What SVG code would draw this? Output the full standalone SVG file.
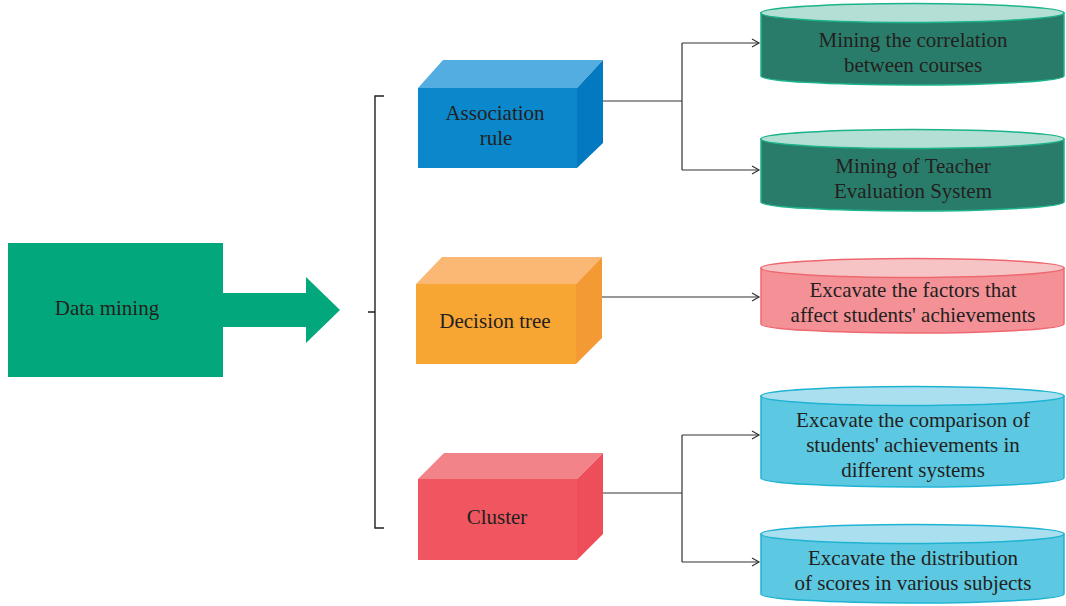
<svg xmlns="http://www.w3.org/2000/svg" width="1066" height="606" viewBox="0 0 1066 606">
<defs>
<style>
.t{font-family:"Liberation Serif","Times New Roman",serif;font-size:21px;fill:#231F20;text-anchor:middle}
.ln{fill:none;stroke:#333;stroke-width:1.2}
.br{fill:none;stroke:#231F20;stroke-width:1.4}
.cg{fill:#2A7C6A;stroke:#1CB38A;stroke-width:1.5}
.cgt{fill:#B3DFD4;stroke:#1CB38A;stroke-width:1.5}
.cp{fill:#F39196;stroke:#EE6870;stroke-width:1.5}
.cpt{fill:#F7C4C6;stroke:#EE6870;stroke-width:1.5}
.cc{fill:#5CC8E1;stroke:#1FB3D3;stroke-width:1.5}
.cct{fill:#A9DFEE;stroke:#1FB3D3;stroke-width:1.5}
</style>
<marker id="ah" markerWidth="10" markerHeight="10" refX="8" refY="5" orient="auto" markerUnits="userSpaceOnUse">
<path d="M1,1 L8,5 L1,9" fill="none" stroke="#333" stroke-width="1.2"/>
</marker>
</defs>
<rect width="1066" height="606" fill="#fff"/>

<g id="data-mining">
<rect x="8" y="243" width="215" height="134" fill="#02A87B"/>
<polygon points="222,293 306,293 306,277 340,310 306,343 306,327 222,327" fill="#02A87B"/>
<text class="t" x="107" y="315">Data mining</text>
</g>

<g id="bracket">
<path class="br" d="M384,96 L375,96 L375,528 L384,528 M368,312 L375,312"/>
</g>

<g id="association-rule">
<polygon points="418,88 443,60 603,60 577,88" fill="#53ADE0"/>
<polygon points="577,88 603,60 603,143 577,168" fill="#0379C2"/>
<rect x="418" y="88" width="159" height="80" fill="#0B88CB"/>
<text class="t" x="495" y="120">Association</text>
<text class="t" x="496" y="145">rule</text>
</g>

<g id="decision-tree">
<polygon points="416,284 442,257 602,257 576,284" fill="#FAB874"/>
<polygon points="576,284 602,257 602,338 576,364" fill="#F39A34"/>
<rect x="416" y="284" width="160" height="80" fill="#F7A533"/>
<text class="t" x="495" y="328">Decision tree</text>
</g>

<g id="cluster">
<polygon points="418,479 444,453 603,453 577,479" fill="#F28489"/>
<polygon points="577,479 603,453 603,534 577,560" fill="#EE4D5A"/>
<rect x="418" y="479" width="159" height="81" fill="#F05660"/>
<text class="t" x="497" y="524">Cluster</text>
</g>

<g id="connectors">
<path class="ln" d="M603,101 L682,101 M682,43 L682,170"/>
<path class="ln" d="M682,43 L759,43" marker-end="url(#ah)"/>
<path class="ln" d="M682,170 L759,170" marker-end="url(#ah)"/>
<path class="ln" d="M602,297 L759,297" marker-end="url(#ah)"/>
<path class="ln" d="M603,493 L682,493 M682,435 L682,562"/>
<path class="ln" d="M682,435 L759,435" marker-end="url(#ah)"/>
<path class="ln" d="M682,562 L759,562" marker-end="url(#ah)"/>
</g>

<g id="cyl-correlation">
<path class="cg" d="M761,13 L761,76 A151.5,9 0 0 0 1064,76 L1064,13 Z"/>
<ellipse class="cgt" cx="912.5" cy="13" rx="151.5" ry="9.5"/>
<text class="t" x="913" y="47">Mining the correlation</text>
<text class="t" x="913" y="72">between courses</text>
</g>

<g id="cyl-teacher">
<path class="cg" d="M761,139 L761,202 A151.5,9 0 0 0 1064,202 L1064,139 Z"/>
<ellipse class="cgt" cx="912.5" cy="139" rx="151.5" ry="9.5"/>
<text class="t" x="913" y="173">Mining of Teacher</text>
<text class="t" x="913" y="198">Evaluation System</text>
</g>

<g id="cyl-factors">
<path class="cp" d="M761,268 L761,324 A151.5,9 0 0 0 1064,324 L1064,268 Z"/>
<ellipse class="cpt" cx="912.5" cy="268" rx="151.5" ry="9.5"/>
<text class="t" x="913" y="297">Excavate the factors that</text>
<text class="t" x="913" y="322">affect students' achievements</text>
</g>

<g id="cyl-comparison">
<path class="cc" d="M761,396 L761,478 A151.5,9 0 0 0 1064,478 L1064,396 Z"/>
<ellipse class="cct" cx="912.5" cy="396" rx="151.5" ry="9.5"/>
<text class="t" x="913" y="427">Excavate the comparison of</text>
<text class="t" x="913" y="452">students' achievements in</text>
<text class="t" x="913" y="477">different systems</text>
</g>

<g id="cyl-distribution">
<path class="cc" d="M761,534 L761,594 A151.5,9 0 0 0 1064,594 L1064,534 Z"/>
<ellipse class="cct" cx="912.5" cy="534" rx="151.5" ry="9.5"/>
<text class="t" x="913" y="565">Excavate the distribution</text>
<text class="t" x="913" y="590">of scores in various subjects</text>
</g>
</svg>
